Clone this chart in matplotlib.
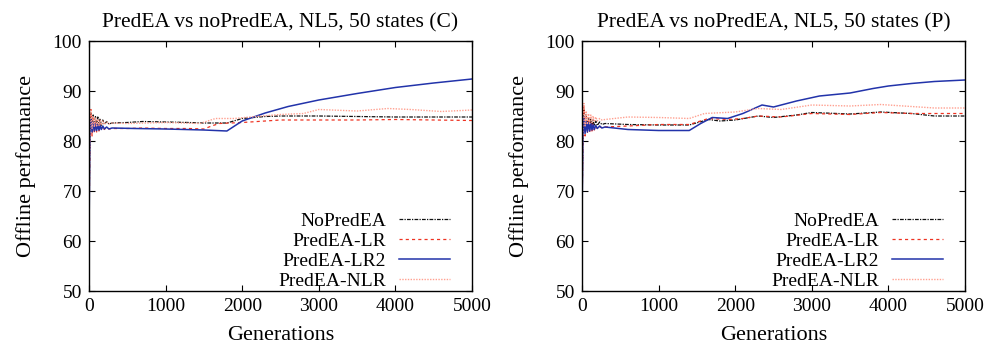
import matplotlib
matplotlib.use("Agg")
import matplotlib.pyplot as plt
import numpy as np

plt.rcParams['font.family'] = ['Liberation Serif', 'DejaVu Serif']

series_names = ["NoPredEA", "PredEA-LR", "PredEA-LR2", "PredEA-NLR"]
titles = ["PredEA vs noPredEA, NL5, 50 states (C)", "PredEA vs noPredEA, NL5, 50 states (P)"]

# ---------- Panel C ----------
c_nopred_x = [0, 12, 25, 40, 55, 70, 85, 100, 115, 130, 145, 160, 180, 200, 230, 260, 300, 500, 700, 1000, 1300, 1500, 1800, 2000, 2300, 2500, 3000, 3500, 4000, 4500, 5000]
c_nopred_y = [61, 84.0, 85.5, 82.5, 85.2, 82.6, 85.0, 82.8, 84.8, 83.0, 84.5, 83.1, 84.2, 83.3, 83.9, 83.4, 83.6, 83.7, 83.9, 83.8, 83.7, 83.6, 83.6, 84.5, 84.9, 85.0, 85.0, 84.9, 84.8, 84.8, 84.8]
c_lr_x = [0, 12, 25, 40, 55, 70, 85, 100, 115, 130, 145, 160, 180, 200, 230, 260, 300, 500, 700, 1000, 1300, 1500, 1600, 1700, 2000, 2500, 3000, 3500, 4000, 4500, 5000]
c_lr_y = [61, 80.5, 86.3, 81.0, 84.5, 81.5, 84.0, 81.8, 83.5, 82.0, 83.2, 82.2, 83.0, 82.3, 82.8, 82.4, 82.5, 82.5, 82.6, 82.5, 82.5, 82.4, 83.0, 83.5, 83.7, 84.2, 84.2, 84.2, 84.3, 84.2, 84.1]
c_lr2_x = [0, 12, 25, 40, 55, 70, 85, 100, 115, 130, 145, 160, 180, 200, 230, 260, 300, 600, 1000, 1500, 1800, 2000, 2300, 2600, 3000, 3500, 4000, 4500, 5000]
c_lr2_y = [61, 81.5, 84.5, 81.8, 83.8, 82.0, 83.5, 82.1, 83.3, 82.2, 83.1, 82.3, 83.0, 82.4, 82.8, 82.4, 82.6, 82.5, 82.4, 82.2, 82.0, 84.0, 85.6, 86.9, 88.2, 89.5, 90.7, 91.6, 92.4]
c_nlr_x = [0, 12, 25, 40, 55, 70, 85, 100, 115, 130, 145, 160, 180, 200, 230, 260, 300, 500, 1000, 1450, 1650, 1900, 2100, 2500, 2800, 3000, 3500, 3900, 4200, 4600, 5000]
c_nlr_y = [61, 83.0, 86.2, 82.5, 85.0, 82.8, 84.7, 83.0, 84.4, 83.1, 84.2, 83.2, 84.0, 83.3, 83.8, 83.4, 83.6, 83.5, 83.7, 83.5, 84.5, 84.5, 84.8, 85.3, 85.5, 86.3, 86.0, 86.5, 86.3, 85.9, 86.2]

# ---------- Panel P ----------
p_nopred_x = [0, 12, 25, 40, 55, 70, 85, 100, 115, 130, 145, 160, 180, 200, 230, 260, 300, 600, 1000, 1400, 1650, 1800, 2000, 2300, 2500, 2800, 3000, 3500, 3900, 4300, 4600, 5000]
p_nopred_y = [64, 83.0, 86.5, 82.0, 85.3, 82.3, 84.8, 82.6, 84.5, 82.8, 84.2, 83.0, 84.0, 83.1, 83.8, 83.3, 83.5, 83.3, 83.2, 83.2, 84.3, 84.0, 84.2, 85.0, 84.7, 85.2, 85.7, 85.4, 85.8, 85.5, 85.0, 85.0]
p_lr_x = [0, 12, 25, 40, 55, 70, 85, 100, 115, 130, 145, 160, 180, 200, 230, 260, 300, 600, 1000, 1400, 1650, 1900, 2100, 2300, 2600, 3000, 3500, 3900, 4300, 5000]
p_lr_y = [64, 80.5, 87.0, 81.0, 84.8, 81.5, 84.2, 81.8, 83.8, 82.0, 83.4, 82.2, 83.1, 82.4, 82.9, 82.6, 82.8, 83.0, 83.3, 83.3, 84.5, 84.3, 84.5, 85.0, 84.8, 85.5, 85.3, 85.7, 85.5, 85.5]
p_lr2_x = [0, 12, 25, 40, 55, 70, 85, 100, 115, 130, 145, 160, 180, 200, 230, 260, 300, 600, 1000, 1400, 1550, 1700, 1900, 2100, 2350, 2500, 2800, 3100, 3500, 3800, 4000, 4300, 4600, 5000]
p_lr2_y = [64, 81.0, 84.8, 81.5, 84.0, 81.8, 83.7, 82.0, 83.5, 82.2, 83.3, 82.3, 83.1, 82.5, 83.0, 82.6, 82.8, 82.3, 82.1, 82.1, 83.5, 84.7, 84.5, 85.5, 87.2, 86.8, 88.0, 89.0, 89.6, 90.5, 91.0, 91.5, 91.9, 92.2]
p_nlr_x = [0, 12, 25, 40, 55, 70, 85, 100, 115, 130, 145, 160, 180, 200, 230, 260, 300, 600, 1000, 1400, 1600, 2000, 2300, 2600, 3000, 3500, 3900, 4300, 4600, 5000]
p_nlr_y = [64, 84.0, 87.5, 83.0, 86.0, 83.3, 85.5, 83.5, 85.2, 83.7, 85.0, 83.8, 84.8, 84.0, 84.5, 84.2, 84.3, 84.8, 84.7, 84.5, 85.5, 85.8, 86.5, 86.3, 87.2, 87.0, 87.3, 86.9, 86.6, 86.6]

panels = [
    [(c_nopred_x, c_nopred_y), (c_lr_x, c_lr_y), (c_lr2_x, c_lr2_y), (c_nlr_x, c_nlr_y)],
    [(p_nopred_x, p_nopred_y), (p_lr_x, p_lr_y), (p_lr2_x, p_lr2_y), (p_nlr_x, p_nlr_y)],
]

styles = [
    dict(color="#111111", linestyle=(0, (3, 1, 1, 1)), linewidth=0.9),
    dict(color="#ee3322", linestyle=(0, (2.5, 2.5)), linewidth=0.9),
    dict(color="#2233aa", linestyle="-", linewidth=1.1),
    dict(color="#ffa090", linestyle=(0, (1, 1)), linewidth=1.0),
]

fig = plt.figure(figsize=(9.87, 3.47), dpi=100)
lefts = [89 / 987, 582 / 987]
width = 383 / 987
bottom = 1 - 291 / 347
height = 250 / 347

for i in range(2):
    ax = fig.add_axes([lefts[i], bottom, width, height])
    for (x, y), name, st in zip(panels[i], series_names, styles):
        ax.plot(x, y, label=name, **st)
    ax.set_xlim(0, 5000)
    ax.set_ylim(50, 100)
    ax.set_xticks([0, 1000, 2000, 3000, 4000, 5000])
    ax.set_yticks([50, 60, 70, 80, 90, 100])
    ax.tick_params(direction="in", top=True, right=True, labelsize=14, length=4, width=0.8, pad=5)
    ax.set_title(titles[i], fontsize=15.5, pad=10)
    ax.set_xlabel("Generations", fontsize=16, labelpad=8)
    ax.set_ylabel("Offline performance", fontsize=16, labelpad=12)
    for s in ax.spines.values():
        s.set_linewidth(1.0)
    ax.legend(loc="lower right", bbox_to_anchor=(0.968, -0.035), frameon=False, markerfirst=False,
              fontsize=14, handlelength=2.6, labelspacing=0.12, borderaxespad=0.2,
              handletextpad=0.7, borderpad=0.3)

fig.savefig("out.png", dpi=100)
